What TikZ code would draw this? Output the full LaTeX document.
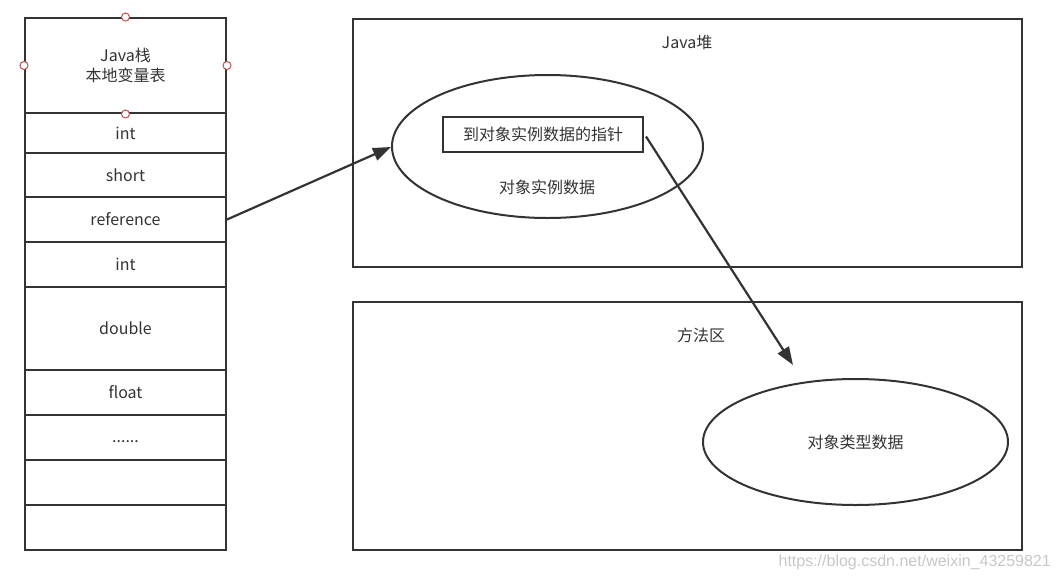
\documentclass[tikz,border=0pt]{standalone}
\usepackage{fontspec}
\setmainfont{Noto Sans CJK SC}
\newfontfamily\wmfont{Liberation Sans}
\usetikzlibrary{arrows.meta,shapes.geometric}
\definecolor{ln}{HTML}{333333}
\definecolor{txt}{HTML}{333333}
\definecolor{hd}{HTML}{B85450}
\tikzset{
  box/.style={draw=ln,line width=2pt,inner sep=0pt},
  lbl/.style={text=txt,font=\fontsize{16}{20}\selectfont,inner sep=0pt,align=center},
  oval/.style={draw=ln,line width=2pt,ellipse,inner sep=0pt},
  conn/.style={draw=ln,line width=2.2pt,-{Triangle[length=18pt,width=13pt]}},
  handle/.style={circle,draw=hd,fill=white,line width=1pt,minimum size=8pt,inner sep=0pt}
}
\begin{document}
\begin{tikzpicture}[x=1pt,y=-1pt]
\useasboundingbox (0,0) rectangle (1058,579);
% stack
\node[box,minimum width=201pt,minimum height=95pt] (hdr) at (125.5,65.5) {};
\node[lbl] (hdrt) at (125.5,65.5) {Java栈\\本地变量表};
\node[box,minimum width=201pt,minimum height=40pt] (r1) at (125.5,133) {};
\node[lbl] at (r1) {int};
\node[box,minimum width=201pt,minimum height=44pt] (r2) at (125.5,175) {};
\node[lbl] at (r2) {short};
\node[box,minimum width=201pt,minimum height=45pt] (r3) at (125.5,219.5) {};
\node[lbl] at (r3) {reference};
\node[box,minimum width=201pt,minimum height=45pt] (r4) at (125.5,264.5) {};
\node[lbl] at (r4) {int};
\node[box,minimum width=201pt,minimum height=83pt] (r5) at (125.5,328.5) {};
\node[lbl] at (r5) {double};
\node[box,minimum width=201pt,minimum height=45pt] (r6) at (125.5,392.5) {};
\node[lbl] at (r6) {float};
\node[box,minimum width=201pt,minimum height=45pt] (r7) at (125.5,437.5) {};
\node[lbl] at ([yshift=-4pt]r7.center) {......};
\node[box,minimum width=201pt,minimum height=45pt] (r8) at (125.5,482.5) {};
\node[box,minimum width=201pt,minimum height=45pt] (r9) at (125.5,527.5) {};
% handles
\node[handle] (h1) at (hdr.north) {};
\node[handle] (h2) at (hdr.west) {};
\node[handle] (h3) at (hdr.east) {};
\node[handle] (h4) at (hdr.south) {};
% heap
\node[box,minimum width=669pt,minimum height=248pt] (heap) at (687.5,143) {};
\node[lbl] (heapt) at (687,42) {Java堆};
\node[oval,minimum width=311pt,minimum height=143pt] (obj) at (547.5,146.5) {};
\node[box,minimum width=200pt,minimum height=35pt] (ptr) at (543,134.5) {};
\node[lbl] at (ptr) {到对象实例数据的指针};
\node[lbl] (objt) at (547,187) {对象实例数据};
% method area
\node[box,minimum width=669pt,minimum height=248pt] (meth) at (687.5,426) {};
\node[lbl] (metht) at (701,335) {方法区};
\node[oval,minimum width=305pt,minimum height=126pt] (cls) at (855.5,442) {};
\node[lbl] at (cls) {对象类型数据};
\coordinate (tgt) at (793,365);
% connectors
\draw[conn] (r3.east) -- (obj.west |- 0,147);
\draw[conn] (ptr.east) ++(2,2) -- (tgt);
% watermark
\node[text=black!22,font=\wmfont\fontsize{16}{19}\selectfont,anchor=east,inner sep=0pt] (wm) at (1051,562) {https://blog.csdn.net/weixin\_43259821};
\end{tikzpicture}
\end{document}
